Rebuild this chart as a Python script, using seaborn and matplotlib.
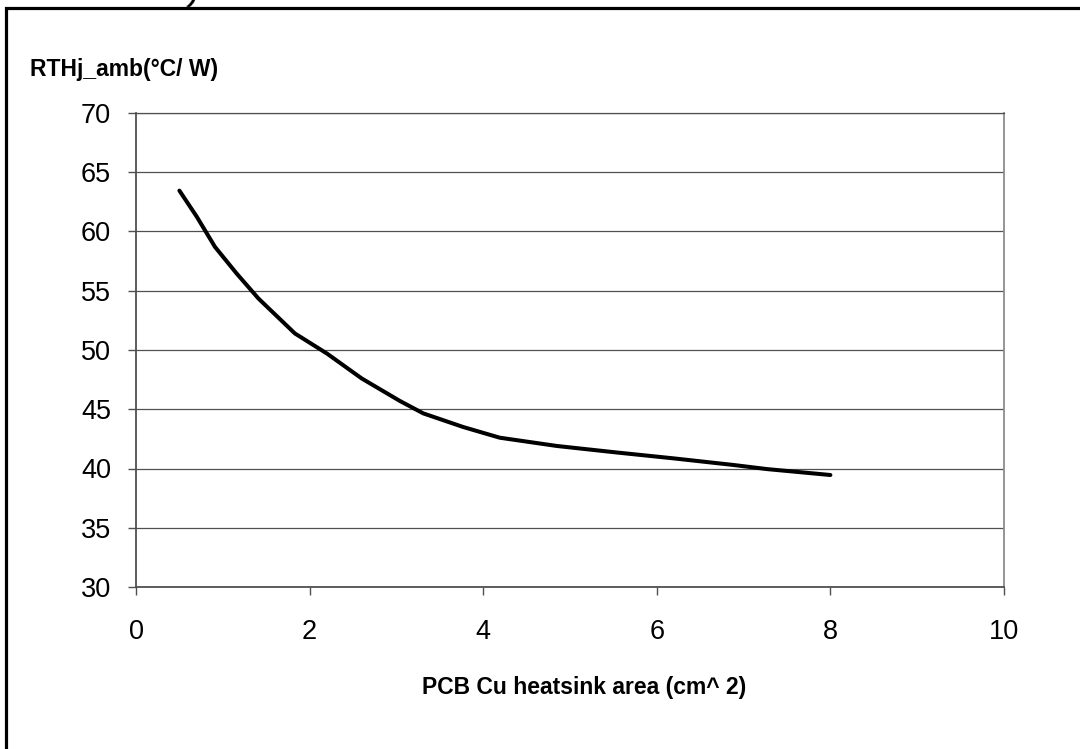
import numpy as np
import pandas as pd
import matplotlib
matplotlib.use('Agg')
import matplotlib.pyplot as plt
import matplotlib.patches as patches
import seaborn as sns

# values
area_cm2 = [0.5, 0.7, 0.91, 1.16, 1.41, 1.83, 2.2, 2.6, 3.04, 3.31, 3.77,
            4.19, 4.85, 5.54, 6.2, 6.88, 7.27, 8.0]
rth_j_amb = [63.45, 61.25, 58.7, 56.45, 54.35, 51.4, 49.7, 47.6, 45.7, 44.65, 43.5,
             42.6, 41.9, 41.35, 40.85, 40.3, 39.95, 39.45]

x_ticks = [0, 2, 4, 6, 8, 10]
y_ticks = [30, 35, 40, 45, 50, 55, 60, 65, 70]

df = pd.DataFrame({'area': area_cm2, 'rth': rth_j_amb})

sns.set_theme(style='white')
plt.rcParams['font.family'] = ['Liberation Sans', 'DejaVu Sans']

W, H = 1080, 749
fig = plt.figure(figsize=(W / 100, H / 100), dpi=100)
ax = fig.add_axes([136 / W, 1 - 587 / H, (1004 - 136) / W, (587 - 113) / H])

grid_col = '#505050'
for v in y_ticks:
    ax.axhline(v, color=grid_col, lw=0.9, zorder=1)

sns.lineplot(data=df, x='area', y='rth', sort=False, color='black', lw=2.9,
             ax=ax, zorder=3)
ax.lines[-1].set_solid_joinstyle('round')
ax.lines[-1].set_solid_capstyle('round')

ax.set_xlim(0, 10)
ax.set_ylim(30, 70)
ax.set_xticks(x_ticks)
ax.set_yticks(y_ticks)
ax.set_xlabel('')
ax.set_ylabel('')

for side in ['left', 'bottom']:
    ax.spines[side].set_color(grid_col)
    ax.spines[side].set_linewidth(1.3)
ax.spines['right'].set_color('#8c8c8c')
ax.spines['right'].set_linewidth(1.3)
ax.spines['top'].set_color(grid_col)
ax.spines['top'].set_linewidth(0.9)

ax.tick_params(axis='y', which='major', left=True, direction='out', length=6,
               width=1.0, color=grid_col, labelsize=19.5, labelcolor='black', pad=12)
ax.tick_params(axis='x', which='major', bottom=True, direction='out', length=6,
               width=1.0, color=grid_col, labelsize=19.5, labelcolor='black', pad=17)

# axis titles placed like the original
fig.text(30 / W, 1 - 76 / H, 'RTHj_amb(°C/ W)', fontsize=16.5, fontweight='bold',
         color='black', ha='left', va='baseline')
fig.text(584 / W, 1 - 694 / H, 'PCB Cu heatsink area (cm^ 2)', fontsize=16.5,
         fontweight='bold', color='black', ha='center', va='baseline')

# cut-off fragment from above the frame
fig.text(192 / W, 1 - 4 / H, ')', fontsize=16, fontweight='bold', color='black',
         ha='center', va='baseline', rotation=-20)

# outer frame (only left and top edges fall inside the image)
frame = patches.Rectangle((6 / W, -0.2), 1.5, 1 - 8 / H + 0.2,
                          transform=fig.transFigure, fill=False,
                          edgecolor='black', lw=2.3, clip_on=False)
fig.patches.append(frame)

fig.savefig('out.png', dpi=100, facecolor='white')
